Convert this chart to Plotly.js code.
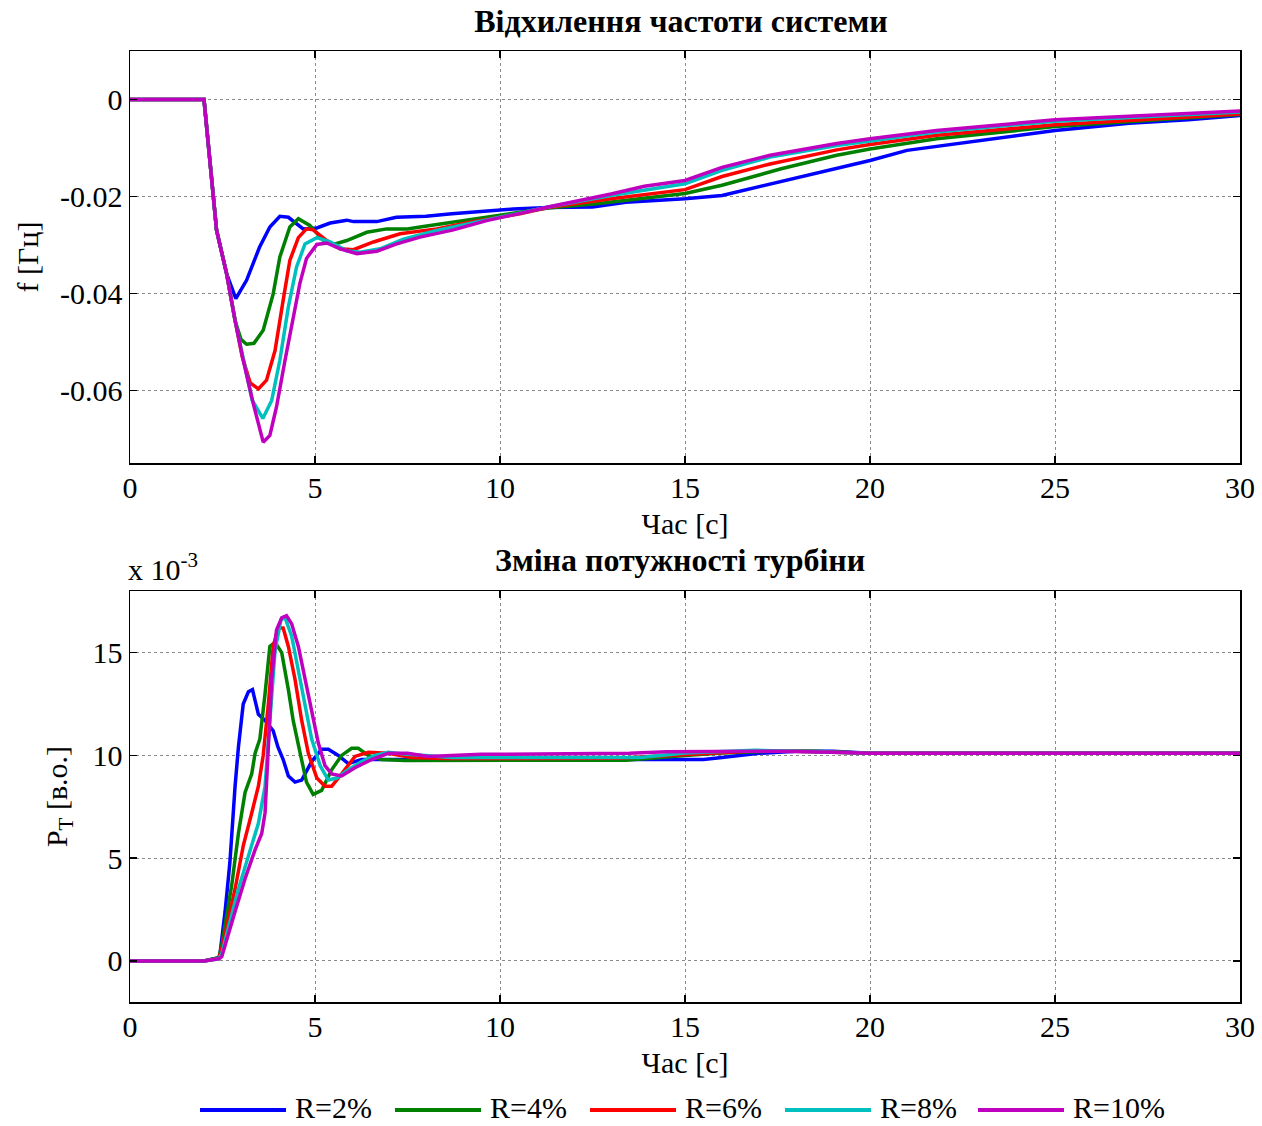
<!DOCTYPE html>
<html>
<head>
<meta charset="utf-8">
<script src="https://cdn.plot.ly/plotly-3.0.1.min.js"></script>
<style>html,body{margin:0;padding:0;background:#fff;}#chart{width:1262px;height:1126px;}</style>
</head>
<body>
<div id="chart"></div>
<script>
// ---------- data ----------
const seriesNames = ["R=2%", "R=4%", "R=6%", "R=8%", "R=10%"];
const seriesColors = ["#0000FF", "#008000", "#FF0000", "#00BFBF", "#BF00BF"];

// Top: frequency deviation f [Hz]
const fT_R2 = [0, 2.0, 2.34, 2.61, 2.86, 3.15, 3.5, 3.78, 4.05, 4.28, 4.68, 5.05, 5.41, 5.86, 6.04, 6.67, 7.2, 8.0, 8.7, 9.46, 10.36, 11.3, 12.5, 13.4, 15, 16, 17.3, 18.9, 20, 21, 22, 23.7, 25, 27, 28.6, 30];
const fY_R2 = [0, 0, -0.027, -0.0359, -0.0411, -0.0373, -0.0305, -0.0263, -0.0241, -0.0243, -0.0267, -0.0265, -0.0255, -0.0249, -0.0252, -0.0252, -0.0243, -0.0241, -0.0236, -0.0231, -0.0226, -0.0223, -0.0222, -0.0212, -0.0205, -0.0198, -0.0174, -0.0145, -0.0126, -0.0105, -0.0095, -0.0078, -0.0064, -0.0049, -0.0042, -0.0033];

const fT_R4 = [0, 2.0, 2.34, 2.61, 2.84, 3.0, 3.15, 3.35, 3.6, 3.87, 4.05, 4.32, 4.55, 4.86, 5.23, 5.5, 5.86, 6.4, 6.94, 7.5, 7.84, 8.74, 9.64, 10.54, 11.3, 12.6, 15, 16, 17.6, 19.1, 20, 21.8, 25, 30];
const fY_R4 = [0, 0, -0.027, -0.0359, -0.0456, -0.0495, -0.0505, -0.0503, -0.0476, -0.0401, -0.0325, -0.0263, -0.0246, -0.0260, -0.0291, -0.0299, -0.0291, -0.0274, -0.0267, -0.0267, -0.0263, -0.0253, -0.0243, -0.0234, -0.0224, -0.0215, -0.0194, -0.0177, -0.0143, -0.0115, -0.0102, -0.0081, -0.0056, -0.0031];

const fT_R6 = [0, 2.0, 2.34, 2.61, 2.84, 3.03, 3.25, 3.47, 3.69, 3.92, 4.14, 4.32, 4.55, 4.77, 4.95, 5.32, 5.68, 6.04, 6.58, 7.3, 8.29, 9.19, 10.54, 11.3, 13, 15, 16, 17.3, 19.1, 20, 21.8, 25, 30];
const fY_R6 = [0, 0, -0.027, -0.0359, -0.0456, -0.053, -0.0585, -0.0597, -0.0579, -0.0518, -0.0414, -0.0332, -0.0285, -0.0267, -0.0269, -0.0291, -0.0308, -0.0310, -0.0294, -0.0277, -0.0267, -0.0253, -0.0236, -0.0223, -0.0205, -0.0186, -0.0159, -0.0133, -0.0104, -0.0093, -0.0074, -0.0052, -0.0030];

const fT_R8 = [0, 2.0, 2.34, 2.61, 2.84, 3.06, 3.3, 3.59, 3.83, 4.05, 4.28, 4.5, 4.73, 5.05, 5.41, 5.86, 6.22, 6.76, 7.39, 8.29, 9.19, 10.54, 11.3, 13, 15, 16, 17.3, 19.1, 20, 21.8, 25, 30];
const fY_R8 = [0, 0, -0.027, -0.0359, -0.0456, -0.0538, -0.062, -0.0658, -0.0621, -0.0538, -0.0428, -0.0346, -0.0298, -0.0285, -0.0294, -0.0312, -0.0315, -0.0308, -0.0288, -0.0270, -0.0256, -0.0235, -0.0222, -0.0198, -0.0174, -0.0146, -0.0119, -0.0095, -0.0086, -0.0067, -0.0045, -0.0026];

const fT_R10 = [0, 2.0, 2.34, 2.61, 2.84, 3.06, 3.33, 3.6, 3.78, 3.96, 4.19, 4.37, 4.59, 4.77, 5.05, 5.32, 5.68, 6.13, 6.67, 7.21, 7.84, 8.74, 9.64, 10.54, 11.3, 13, 13.9, 15, 16, 17.3, 19.1, 20, 21.8, 25, 30];
const fY_R10 = [0, 0, -0.027, -0.0359, -0.0456, -0.0538, -0.0627, -0.0707, -0.0693, -0.0634, -0.0538, -0.0469, -0.0380, -0.0328, -0.0299, -0.0296, -0.0308, -0.0318, -0.0313, -0.0298, -0.0284, -0.0269, -0.0250, -0.0235, -0.0222, -0.0195, -0.0179, -0.0167, -0.0140, -0.0115, -0.0091, -0.0081, -0.0064, -0.0042, -0.0024];

// Bottom: turbine power change, values in units of 10^-3 p.u.
const pT_R2 = [0, 2.0, 2.4, 2.43, 2.57, 2.7, 2.84, 2.93, 3.06, 3.2, 3.31, 3.47, 3.65, 3.87, 4.0, 4.14, 4.28, 4.46, 4.64, 4.91, 5.18, 5.36, 5.63, 5.9, 6.26, 8, 15.5, 16, 17, 18, 19, 20, 30];
const pY_R2 = [0, 0, 0.15, 0.3, 2.4, 4.8, 8.5, 10.4, 12.5, 13.1, 13.2, 12.0, 11.7, 11.2, 10.4, 9.8, 9.0, 8.7, 8.8, 9.7, 10.3, 10.3, 10.0, 9.6, 9.8, 9.8, 9.8, 9.9, 10.1, 10.2, 10.2, 10.1, 10.1];

const pT_R4 = [0, 2.0, 2.4, 2.48, 2.75, 2.93, 3.11, 3.29, 3.38, 3.51, 3.65, 3.78, 3.92, 4.1, 4.28, 4.41, 4.6, 4.77, 4.95, 5.18, 5.45, 5.72, 5.99, 6.17, 6.44, 6.8, 7.43, 13.4, 15, 16, 17.3, 18.5, 20, 30];
const pY_R4 = [0, 0, 0.15, 0.76, 3.7, 6.2, 8.2, 9.1, 10.1, 10.8, 13.0, 15.3, 15.5, 15.0, 13.2, 11.7, 10.1, 8.7, 8.1, 8.3, 9.3, 10.0, 10.35, 10.35, 10.0, 9.8, 9.75, 9.77, 10.0, 10.12, 10.2, 10.2, 10.1, 10.1];

const pT_R6 = [0, 2.0, 2.4, 2.48, 2.84, 3.06, 3.29, 3.47, 3.6, 3.74, 3.87, 4.0, 4.14, 4.28, 4.46, 4.64, 4.82, 5.05, 5.27, 5.45, 5.72, 6.08, 6.44, 6.98, 7.61, 8.5, 13.2, 15, 16.7, 18, 20, 30];
const pY_R6 = [0, 0, 0.12, 0.6, 3.5, 5.6, 7.2, 8.5, 10.0, 12.5, 15.3, 16.2, 16.2, 15.3, 13.7, 11.7, 10.1, 8.9, 8.5, 8.5, 9.1, 9.95, 10.15, 10.1, 9.9, 9.85, 9.86, 10.05, 10.2, 10.2, 10.1, 10.1];

const pT_R8 = [0, 2.0, 2.4, 2.48, 2.93, 3.2, 3.47, 3.65, 3.78, 3.92, 4.08, 4.19, 4.37, 4.55, 4.73, 4.91, 5.14, 5.36, 5.59, 5.9, 6.26, 6.62, 6.98, 7.5, 8.7, 13.8, 15, 16.9, 18, 20, 30];
const pY_R8 = [0, 0, 0.1, 0.35, 3.5, 5.1, 6.7, 8.5, 11.7, 15.1, 16.6, 16.7, 15.8, 14.1, 12.4, 10.8, 9.5, 8.8, 8.9, 9.3, 9.7, 10.0, 10.15, 10.05, 9.9, 9.9, 10.12, 10.25, 10.2, 10.1, 10.1];

const pT_R10 = [0, 2.0, 2.4, 2.48, 2.84, 3.11, 3.38, 3.56, 3.65, 3.74, 3.83, 3.96, 4.1, 4.23, 4.37, 4.55, 4.73, 4.91, 5.09, 5.27, 5.45, 5.72, 6.08, 6.53, 6.98, 7.5, 8.06, 9.5, 13.5, 14.5, 15.5, 17.5, 19, 20, 30];
const pY_R10 = [0, 0, 0.1, 0.2, 2.4, 4.0, 5.4, 6.2, 7.2, 10.4, 13.7, 16.1, 16.7, 16.8, 16.4, 15.3, 13.7, 12.0, 10.6, 9.5, 9.1, 9.0, 9.4, 9.8, 10.1, 10.1, 9.95, 10.05, 10.1, 10.18, 10.2, 10.2, 10.15, 10.1, 10.1];

const xTickVals = [0, 5, 10, 15, 20, 25, 30];
const xTickText = ["0", "5", "10", "15", "20", "25", "30"];
const fTickVals = [0, -0.02, -0.04, -0.06];
const fTickText = ["0", "-0.02", "-0.04", "-0.06"];
const pTickVals = [0, 5, 10, 15];
const pTickText = ["0", "5", "10", "15"];

const topTitle = "Відхилення частоти системи";
const bottomTitle = "Зміна потужності турбіни";
const xLabel = "Час [с]";
const fLabel = "f [Гц]";
const pLabel = "P<sub>T</sub> [в.о.]";
const scaleLabel = "x 10<sup>-3</sup>";

// ---------- build ----------
const topSets = [[fT_R2, fY_R2], [fT_R4, fY_R4], [fT_R6, fY_R6], [fT_R8, fY_R8], [fT_R10, fY_R10]];
const botSets = [[pT_R2, pY_R2], [pT_R4, pY_R4], [pT_R6, pY_R6], [pT_R8, pY_R8], [pT_R10, pY_R10]];

const W = 1262, H = 1126, ML = 130, MR = 22;
const PW = W - ML - MR;
const px = x => (x - ML) / PW;
const py = y => 1 - y / H;

const FONT = "Liberation Serif, Times New Roman, serif";
const FS = 30;
const traces = [];
topSets.forEach((s, i) => traces.push({
  x: s[0], y: s[1], type: "scatter", mode: "lines", name: seriesNames[i],
  line: {color: seriesColors[i], width: 3.5}, xaxis: "x", yaxis: "y", showlegend: false
}));
botSets.forEach((s, i) => traces.push({
  x: s[0], y: s[1], type: "scatter", mode: "lines", name: seriesNames[i],
  line: {color: seriesColors[i], width: 3.5}, xaxis: "x2", yaxis: "y2", showlegend: false
}));

const axBase = {
  showline: true, linecolor: "#000", linewidth: 1.5, mirror: "ticks",
  ticks: "inside", ticklen: 7, tickwidth: 1.5, tickcolor: "#000",
  showgrid: true, gridcolor: "#8a8a8a", griddash: "dot", gridwidth: 1,
  zeroline: false, tickfont: {family: FONT, size: FS, color: "#000"}
};

const shapes = [], annotations = [];
// legend drawn along the bottom
const legLineX = [200, 395, 590, 785, 978];
seriesNames.forEach((n, i) => {
  shapes.push({type: "line", xref: "paper", yref: "paper",
    x0: px(legLineX[i]), x1: px(legLineX[i] + 86), y0: py(1110), y1: py(1110),
    line: {color: seriesColors[i], width: 4}});
  annotations.push({xref: "paper", yref: "paper", x: px(legLineX[i] + 94), y: py(1125),
    xanchor: "left", yanchor: "bottom", borderpad: 0, showarrow: false, text: n,
    font: {family: FONT, size: FS, color: "#000"}});
});
annotations.push({xref: "paper", yref: "paper", x: px(680), y: py(560), xanchor: "center", yanchor: "middle",
  showarrow: false, text: "<b>" + bottomTitle + "</b>", font: {family: FONT, size: 32, color: "#000"}});
annotations.push({xref: "paper", yref: "paper", x: px(126), y: py(567), xanchor: "left", yanchor: "middle",
  showarrow: false, text: scaleLabel, font: {family: FONT, size: FS, color: "#000"}});

const layout = {
  width: W, height: H, paper_bgcolor: "#fff", plot_bgcolor: "#fff",
  margin: {l: ML, r: MR, t: 0, b: 0},
  showlegend: false,
  font: {family: FONT, size: FS, color: "#000"},
  title: {text: "<b>" + topTitle + "</b>", font: {family: FONT, size: 32, color: "#000"},
    x: px(681), xanchor: "center", y: py(21), yanchor: "middle", xref: "paper", yref: "paper"},
  xaxis: Object.assign({}, axBase, {domain: [0, 1], range: [0, 30], anchor: "y",
    tickvals: xTickVals, ticktext: xTickText, ticklabelstandoff: -3,
    title: {text: xLabel, font: {family: FONT, size: FS}, standoff: 10}}),
  yaxis: Object.assign({}, axBase, {domain: [py(463), py(51)], range: [-0.075, 0.01], anchor: "x",
    tickvals: fTickVals, ticktext: fTickText,
    title: {text: fLabel, font: {family: FONT, size: FS}, standoff: 12}}),
  xaxis2: Object.assign({}, axBase, {domain: [0, 1], range: [0, 30], anchor: "y2",
    tickvals: xTickVals, ticktext: xTickText, ticklabelstandoff: -3,
    title: {text: xLabel, font: {family: FONT, size: FS}, standoff: 10}}),
  yaxis2: Object.assign({}, axBase, {domain: [py(1002), py(591)], range: [-2, 18], anchor: "x2",
    tickvals: pTickVals, ticktext: pTickText,
    title: {text: pLabel, font: {family: FONT, size: FS}, standoff: 16}}),
  shapes: shapes, annotations: annotations
};

Plotly.newPlot("chart", traces, layout, {displayModeBar: false, staticPlot: true});
</script>
</body>
</html>
